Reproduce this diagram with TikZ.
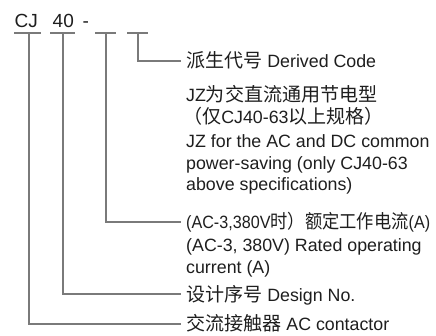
\documentclass[tikz,border=0pt]{standalone}
\usepackage{fontspec}
\setmainfont{Liberation Sans}
\newfontfamily\cjk{Noto Sans CJK SC}[Scale=1.07]
\newfontfamily\cjkp{Noto Sans CJK TC}[Scale=1.07]
\definecolor{txt}{HTML}{1E1E1E}
\definecolor{ln}{HTML}{7A7A7A}
\begin{document}
\begin{tikzpicture}[x=1pt,y=-1pt,
  lbl/.style={anchor=base west, inner sep=0pt, font=\fontsize{17.8}{21}\selectfont, text=txt},
  codelbl/.style={anchor=base west, inner sep=0pt, font=\fontsize{19}{22}\selectfont, text=txt},
  conn/.style={draw=ln, line width=1.2pt},
  seg/.style={draw=ln, line width=1.2pt}]
\useasboundingbox (0,0) rectangle (436,335);
% code
\node[codelbl] (cj) at (14.5,27) {CJ};
\node[codelbl] (n40) at (52.5,27) {40};
\node[codelbl] (dash) at (82.5,27) {-};
% underline segments
\coordinate (s1a) at (14,33);  \coordinate (s1b) at (41,33);  \coordinate (v1) at (29,33);
\coordinate (s2a) at (50,33);  \coordinate (s2b) at (75,33);  \coordinate (v2) at (63,33);
\coordinate (s3a) at (95,33);  \coordinate (s3b) at (116,33); \coordinate (v3) at (106,33);
\coordinate (s4a) at (127,33); \coordinate (s4b) at (148,33); \coordinate (v4) at (138,33);
\draw[seg] (s1a) -- (s1b);
\draw[seg] (s2a) -- (s2b);
\draw[seg] (s3a) -- (s3b);
\draw[seg] (s4a) -- (s4b);
% connector ends
\coordinate (e4) at (181,61);
\coordinate (e3) at (181,222);
\coordinate (e2) at (181,294);
\coordinate (e1) at (181,324);
\draw[conn] (v4) |- (e4);
\draw[conn] (v3) |- (e3);
\draw[conn] (v2) |- (e2);
\draw[conn] (v1) |- (e1);
% texts
\node[lbl] (t1) at (186,67.5) {{\cjk 派生代号} Derived Code};
\node[lbl] (t2a) at (186,101.5) {JZ{\cjk 为交直流通用节电型}};
\node[lbl] (t2b) at (183,123) {{\cjkp （}{\cjk 仅}CJ40-63{\cjk 以上规格}{\cjkp ）}};
\node[lbl] (t2c) at (186,147) {JZ for the AC and DC common};
\node[lbl] (t2d) at (186,169) {power-saving (only CJ40-63};
\node[lbl] (t2e) at (186,190) {above specifications)};
\node[lbl] (t3a) at (186,228.5) {\resizebox{244pt}{\height}{(AC-3,380V{\cjk 时}{\cjkp ）}{\cjk 额定工作电流}(A)}};
\node[lbl] (t3b) at (186,251.5) {(AC-3, 380V) Rated operating};
\node[lbl] (t3c) at (186,273) {current (A)};
\node[lbl] (t4) at (186,301) {{\cjk 设计序号} Design No.};
\node[lbl] (t5) at (186,330.5) {{\cjk 交流接触器} AC contactor};
\end{tikzpicture}
\end{document}
